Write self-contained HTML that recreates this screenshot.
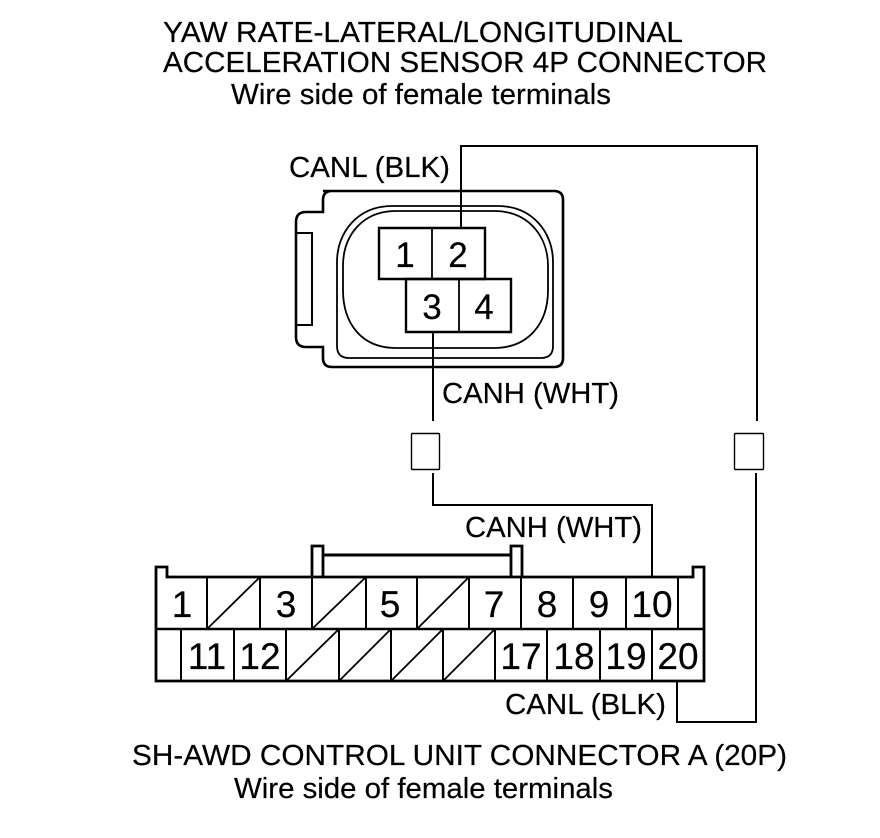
<!DOCTYPE html>
<html>
<head>
<meta charset="utf-8">
<style>
html,body{margin:0;padding:0;background:#fff;width:880px;height:838px;overflow:hidden}
svg{display:block}
text{font-family:"Liberation Sans",sans-serif;fill:#000;stroke:#000;stroke-width:.2}
.t{font-size:29px}
.n{font-size:37px;text-anchor:middle}
.m{font-size:35px;text-anchor:middle}
path,rect,line{fill:none;stroke:#000}
</style>
</head>
<body>
<svg width="880" height="838" viewBox="0 0 880 838" xmlns="http://www.w3.org/2000/svg">
<text class="t" x="163" y="42" textLength="520" lengthAdjust="spacingAndGlyphs">YAW RATE-LATERAL/LONGITUDINAL</text>
<text class="t" x="163" y="72" textLength="604" lengthAdjust="spacingAndGlyphs">ACCELERATION SENSOR 4P CONNECTOR</text>
<text class="t" x="231" y="104" textLength="380" lengthAdjust="spacingAndGlyphs">Wire side of female terminals</text>
<text class="t" x="289" y="177" textLength="161" lengthAdjust="spacingAndGlyphs">CANL (BLK)</text>
<text class="t" x="442" y="403" textLength="177" lengthAdjust="spacingAndGlyphs">CANH (WHT)</text>
<text class="t" x="465" y="537" textLength="177" lengthAdjust="spacingAndGlyphs">CANH (WHT)</text>
<text class="t" x="505" y="714" textLength="161" lengthAdjust="spacingAndGlyphs">CANL (BLK)</text>
<text class="t" x="132" y="765" textLength="655" lengthAdjust="spacingAndGlyphs">SH-AWD CONTROL UNIT CONNECTOR A (20P)</text>
<text class="t" x="234" y="798" textLength="379" lengthAdjust="spacingAndGlyphs">Wire side of female terminals</text>

<!-- 4P connector body -->
<path stroke-width="2.6" d="M323 191 H554 Q563 191 563 200 V358 Q563 367 554 367 H332 Q323 367 323 358 V347 H306 Q296 347 296 337 V222 Q296 212 306 212 H323 V200 Q323 191 332 191 Z"/>
<path stroke-width="2" d="M296 233 H312 V325 H296"/>
<path stroke-width="1.8" d="M392 206 H498 C532 206 553 232 553 262 V346 Q553 358 541 358 H349 Q337 358 337 346 V262 C337 232 358 206 392 206 Z"/>
<path stroke-width="1.8" d="M396 211 H494 C528 211 548 236 548 266 V290 C548 324 528 348 494 348 H396 C362 348 343 324 343 290 V266 C343 236 362 211 396 211 Z"/>

<!-- 4P pins -->
<path stroke-width="2.4" d="M379 228 H485 V279 H379 Z"/>
<path stroke-width="2.4" d="M406 279 H511 V332 H406 Z"/>
<path stroke-width="1.8" d="M432 228 V279 M459 279 V332"/>
<text class="m" x="405" y="267">1</text>
<text class="m" x="458" y="267">2</text>
<text class="m" x="432" y="319">3</text>
<text class="m" x="484" y="319">4</text>

<!-- Wires -->
<path stroke-width="2" d="M461 227 V146 H757 V421"/>
<path stroke-width="2" d="M433 332 V421"/>
<path stroke-width="2" d="M433 473 V505 H652 V577"/>
<path stroke-width="2" d="M756 473 V722 H677 V682"/>
<rect x="411.5" y="433.5" width="28" height="36" rx="1" stroke-width="1.4"/>
<rect x="734.5" y="433.5" width="29" height="36" rx="1" stroke-width="1.4"/>

<!-- Clip -->
<path stroke-width="2.8" d="M312 577 V546 H323 V577"/>
<path stroke-width="2.8" d="M511 577 V546 H522 V577"/>
<path stroke-width="3" d="M323 555 H511"/>

<!-- 20P connector -->
<path stroke-width="2.8" d="M156 681 V567 H167 V577 H693 V567 H704 V681 Z"/>
<path stroke-width="2.6" d="M156 629 H704"/>
<path stroke-width="2" d="M207 577 V629 M260 577 V629 M312 577 V629 M366 577 V629 M417 577 V629 M469 577 V629 M521 577 V629 M573 577 V629 M626 577 V629 M678 577 V629"/>
<path stroke-width="2" d="M181 629 V681 M234 629 V681 M286 629 V681 M339 629 V681 M391 629 V681 M443 629 V681 M495 629 V681 M547 629 V681 M600 629 V681 M652 629 V681"/>
<path stroke-width="1.8" d="M207 629 L260 577 M312 629 L366 577 M417 629 L469 577 M286 681 L339 629 M339 681 L391 629 M391 681 L443 629 M443 681 L495 629"/>

<text class="n" x="182" y="617">1</text>
<text class="n" x="286" y="617">3</text>
<text class="n" x="390" y="617">5</text>
<text class="n" x="494" y="617">7</text>
<text class="n" x="547" y="617">8</text>
<text class="n" x="599" y="617">9</text>
<text class="n" x="652" y="617">10</text>
<text class="n" x="207" y="669">11</text>
<text class="n" x="260" y="669">12</text>
<text class="n" x="521" y="669">17</text>
<text class="n" x="574" y="669">18</text>
<text class="n" x="626" y="669">19</text>
<text class="n" x="678" y="669">20</text>
</svg>
</body>
</html>
